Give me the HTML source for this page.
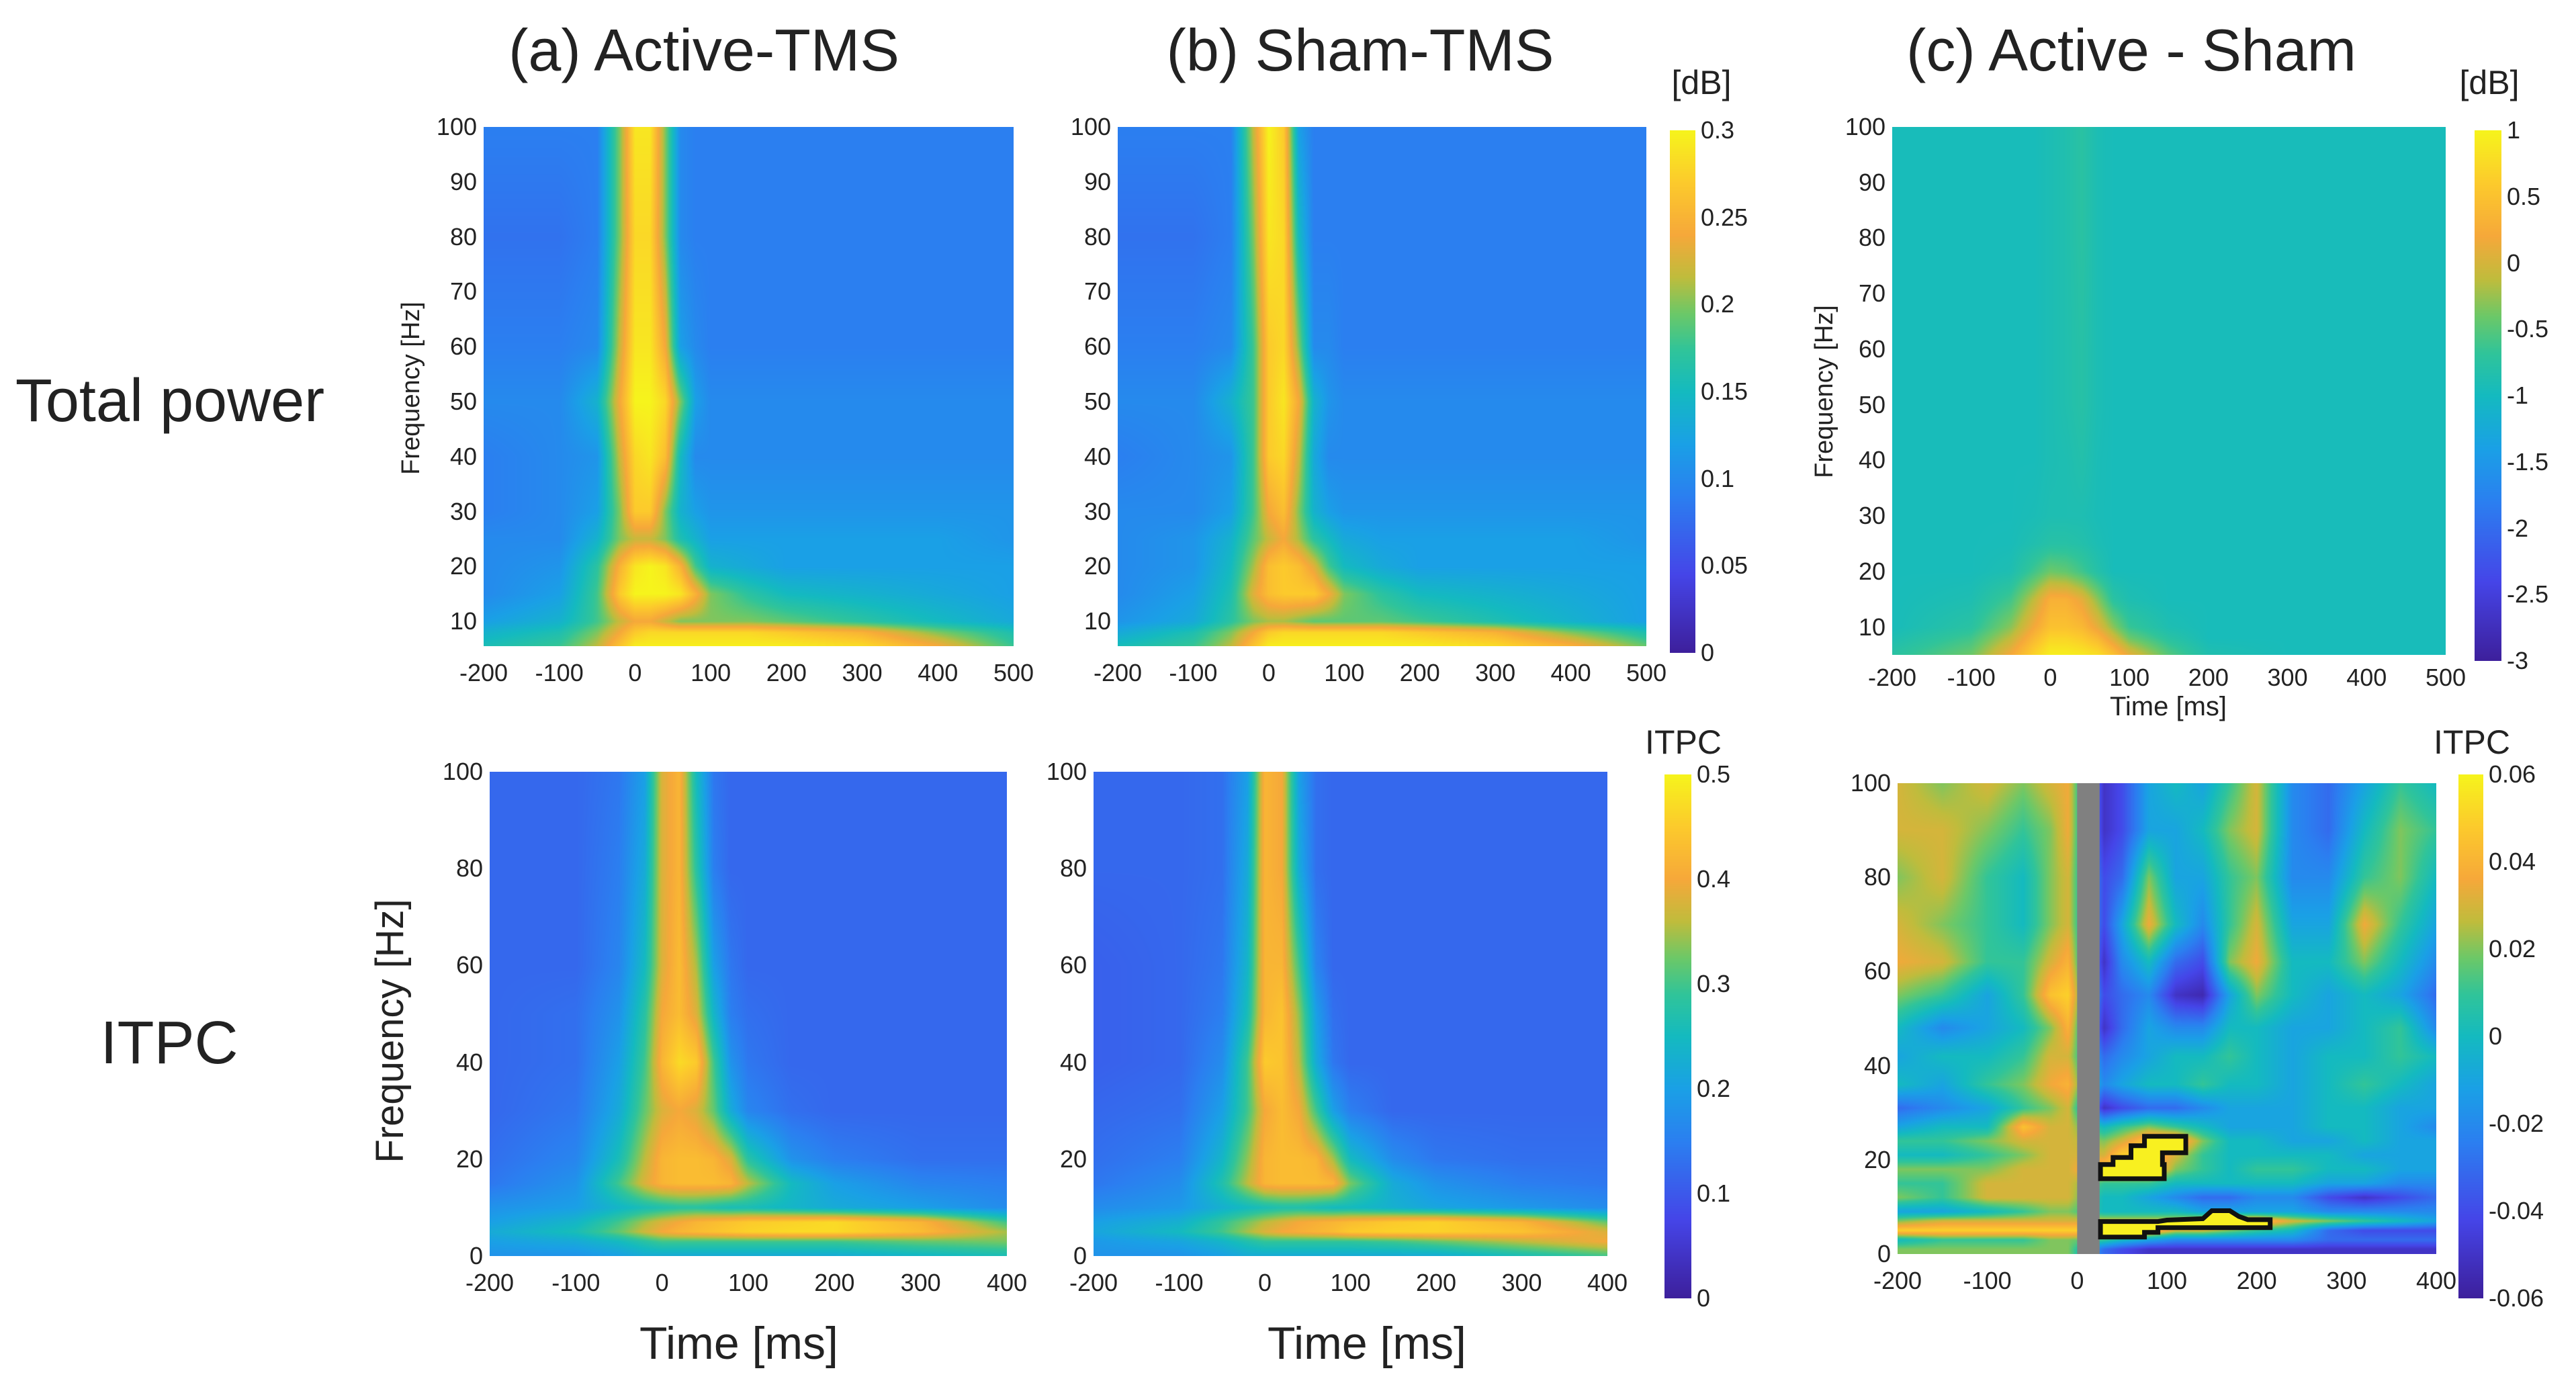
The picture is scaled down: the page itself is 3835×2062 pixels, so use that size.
<!DOCTYPE html>
<html><head><meta charset="utf-8"><style>
body{margin:0;background:#fff;}
#root{position:relative;width:3835px;height:2062px;overflow:hidden;background:#fff;font-family:"Liberation Sans Narrow","Liberation Sans",sans-serif;color:#222;}
.t{position:absolute;white-space:nowrap;line-height:1;}
canvas{position:absolute;}
svg{position:absolute;left:0;top:0;}
</style></head><body>
<div id="root"></div>
<script>
// ---------- DATA ----------
const stopsFrac=[0,0.15,0.3,0.4,0.5,0.58,0.65,0.72,0.8,0.9,1];
const stopsCol=["#3d1f9b","#4545e8","#2b7ff0","#1aa0e6","#14bac0","#30c49a","#6cc868","#c0bc3c","#f6a83a","#fcca2c","#f6f41c"];

const powTimes=[-200,-100,-50,-20,0,20,40,60,80,100,150,200,300,400,500];
const powFreqs=[100,80,60,50,40,30,25,20,15,10,8,5];
const powA=[
[.09,.09,.09,.2,.29,.29,.2,.1,.09,.09,.09,.09,.09,.09,.09],
[.08,.08,.09,.2,.28,.28,.2,.1,.09,.09,.09,.09,.09,.09,.09],
[.09,.09,.1,.22,.29,.29,.24,.12,.1,.09,.09,.09,.09,.09,.09],
[.1,.1,.14,.24,.3,.3,.28,.2,.12,.1,.1,.1,.1,.1,.1],
[.09,.1,.11,.22,.28,.29,.26,.15,.1,.1,.1,.1,.1,.1,.1],
[.09,.1,.12,.2,.27,.27,.2,.14,.12,.11,.11,.11,.11,.11,.11],
[.1,.1,.14,.2,.22,.22,.2,.16,.14,.12,.12,.12,.12,.12,.11],
[.1,.11,.17,.25,.29,.3,.29,.25,.18,.14,.13,.12,.12,.12,.12],
[.1,.12,.18,.27,.3,.3,.3,.29,.25,.2,.17,.15,.14,.13,.12],
[.12,.14,.18,.22,.24,.24,.22,.2,.2,.2,.2,.19,.17,.15,.13],
[.14,.16,.2,.24,.27,.28,.28,.28,.28,.28,.28,.27,.25,.2,.16],
[.16,.18,.22,.27,.3,.3,.3,.3,.3,.3,.3,.3,.29,.25,.18]];
const powB=[
[.09,.09,.09,.22,.3,.27,.12,.09,.09,.09,.09,.09,.09,.09,.09],
[.08,.08,.09,.2,.29,.28,.15,.09,.09,.09,.09,.09,.09,.09,.09],
[.09,.09,.1,.18,.27,.28,.2,.1,.1,.09,.09,.09,.09,.09,.09],
[.1,.1,.14,.18,.27,.29,.24,.14,.11,.1,.1,.1,.1,.1,.1],
[.09,.1,.11,.18,.27,.28,.22,.13,.1,.1,.1,.1,.1,.1,.1],
[.1,.1,.12,.18,.24,.26,.2,.14,.12,.11,.11,.11,.11,.11,.11],
[.1,.11,.14,.19,.22,.24,.21,.17,.15,.13,.12,.12,.12,.12,.11],
[.1,.11,.15,.21,.26,.27,.26,.23,.18,.15,.13,.12,.12,.12,.12],
[.1,.12,.16,.23,.26,.27,.27,.27,.24,.2,.17,.15,.14,.13,.12],
[.11,.13,.17,.2,.21,.21,.2,.19,.19,.19,.19,.18,.16,.14,.12],
[.13,.16,.2,.24,.27,.28,.28,.28,.28,.28,.28,.27,.25,.2,.16],
[.16,.18,.22,.27,.3,.3,.3,.3,.3,.3,.3,.3,.29,.26,.2]];
const powC=[
[-.95,-.95,-.95,-.95,-.9,-.85,-.75,-.9,-.95,-.95,-.95,-.95,-.95,-.95,-.95],
[-.95,-.95,-.95,-.95,-.9,-.85,-.75,-.9,-.95,-.95,-.95,-.95,-.95,-.95,-.95],
[-.95,-.95,-.95,-.95,-.9,-.85,-.78,-.9,-.95,-.95,-.95,-.95,-.95,-.95,-.95],
[-.95,-.95,-.95,-.95,-.9,-.85,-.78,-.9,-.95,-.95,-.95,-.95,-.95,-.95,-.95],
[-.95,-.95,-.95,-.95,-.9,-.88,-.82,-.92,-.95,-.95,-.95,-.95,-.95,-.95,-.95],
[-.95,-.95,-.95,-.92,-.88,-.88,-.88,-.93,-.95,-.95,-.95,-.95,-.95,-.95,-.95],
[-.95,-.95,-.94,-.85,-.78,-.78,-.82,-.9,-.95,-.95,-.95,-.95,-.95,-.95,-.95],
[-.95,-.95,-.88,-.6,-.4,-.45,-.6,-.8,-.95,-.95,-.95,-.95,-.95,-.95,-.95],
[-.95,-.88,-.6,-.1,.3,.3,.1,-.3,-.75,-.88,-.95,-.95,-.95,-.95,-.95],
[-.95,-.75,-.3,.2,.5,.5,.4,.1,-.3,-.65,-.88,-.95,-.95,-.95,-.95],
[-.88,-.6,-.1,.4,.7,.7,.6,.4,0,-.4,-.75,-.95,-.95,-.95,-.95],
[-.75,-.4,.2,.7,.95,.95,.9,.8,.5,.1,-.5,-.85,-.95,-.95,-.95]];

const itTimes=[-200,-100,-50,-20,0,20,40,60,80,100,150,200,300,400];
const itFreqs=[100,80,60,50,40,30,20,15,10,7,5,3,0];
const itA=[
[.12,.12,.14,.2,.38,.42,.25,.14,.12,.12,.12,.12,.12,.12],
[.12,.12,.15,.22,.38,.42,.28,.15,.12,.12,.12,.12,.12,.12],
[.12,.12,.16,.25,.38,.43,.35,.2,.14,.12,.12,.12,.12,.12],
[.12,.13,.18,.28,.4,.43,.38,.24,.15,.13,.12,.12,.12,.12],
[.12,.13,.2,.3,.42,.47,.45,.3,.18,.14,.12,.12,.12,.12],
[.12,.14,.22,.32,.38,.4,.38,.32,.22,.16,.13,.12,.12,.12],
[.13,.16,.26,.36,.42,.43,.43,.42,.38,.28,.18,.15,.13,.13],
[.14,.18,.3,.38,.42,.43,.43,.43,.42,.36,.25,.2,.16,.15],
[.18,.2,.24,.26,.27,.28,.28,.27,.26,.26,.24,.22,.2,.17],
[.2,.24,.3,.35,.38,.4,.42,.43,.44,.45,.46,.47,.42,.3],
[.22,.26,.32,.37,.4,.42,.43,.44,.45,.46,.47,.47,.43,.35],
[.2,.22,.25,.28,.3,.3,.3,.3,.3,.3,.3,.3,.32,.33],
[.18,.18,.2,.22,.22,.22,.22,.22,.22,.22,.22,.22,.24,.26]];
const itB=[
[.12,.12,.13,.2,.42,.4,.2,.13,.12,.12,.12,.12,.12,.12],
[.12,.12,.13,.22,.42,.4,.22,.13,.12,.12,.12,.12,.12,.12],
[.11,.12,.14,.24,.42,.42,.3,.16,.12,.12,.12,.12,.12,.12],
[.11,.12,.15,.26,.42,.44,.34,.2,.13,.12,.12,.12,.12,.12],
[.11,.12,.17,.3,.45,.44,.36,.22,.14,.12,.12,.12,.12,.12],
[.12,.13,.2,.3,.4,.43,.4,.3,.2,.15,.12,.12,.12,.12],
[.13,.15,.24,.34,.42,.43,.43,.42,.35,.25,.17,.14,.13,.13],
[.14,.17,.27,.36,.42,.43,.43,.43,.42,.33,.22,.18,.15,.14],
[.17,.19,.23,.25,.26,.27,.27,.26,.25,.25,.23,.21,.19,.17],
[.2,.23,.29,.33,.36,.38,.4,.41,.42,.43,.45,.46,.42,.32],
[.21,.25,.3,.35,.38,.4,.41,.42,.43,.45,.46,.46,.44,.38],
[.19,.21,.24,.27,.29,.29,.29,.29,.29,.29,.3,.32,.36,.4],
[.18,.18,.2,.22,.22,.22,.22,.22,.22,.22,.22,.22,.26,.3]];

const dTimes=[-200,-150,-100,-60,-30,-10,30,50,80,110,140,170,200,240,280,320,360,400];
const dFreqs=[100,90,80,70,62,55,48,42,36,31,27,24,21,18,15,12,9,7,5,3,1];
const dVals=[
[3,2,3,2,3,3.5,-5,-4,-1,0,-1,1,3,-2,-3,-1,1,0],
[3,3,2,1,2,3.5,-5,-4,-1,-1,0,2,3,-2,-3,0,2,1],
[2,3,1,0,2,3,-4,-3,2,-1,-1,1,2,-2,-2,1,2,0],
[3,2,1,0,2,3,-4,-1,3.5,0,-2,1,3,-1,-1,3.5,1,-1],
[3.5,3,1,1,3,4,-5,-2,0,-3,-4,2,3.5,0,0,2,0,-2],
[2,1,-1,1,4.5,5,-4,-3,-2,-5,-5.5,-1,2,0,-1,0,-1,-3],
[0,-2,-1,0,2,4,-5,-3,-1,-2,-2,0,0,-1,-1,0,1,-2],
[-1,0,0,1,3,3,-3,-2,-1,0,0,1,0,-1,0,0,1,0],
[0,-1,1,2,3.5,4,-2,-1,0,0,1,0,0,-1,0,1,0,-1],
[-3,-2,-1,1,2,3,-5,-4,-3,-3,-2,-1,-1,-1,0,0,-1,-1],
[-1,0,0,4.5,3,3,0,1,2,1,0,-1,-1,-1,0,0,-1,-2],
[1,1,2,3,3,3,2,3,5,5,2,0,0,-1,-1,0,-1,-1],
[0,0,1,2,3,3,3,5,5,3,1,0,0,0,0,-1,-1,-1],
[2,2,2,3,3,3,5,5,5,2,1,0,1,1,0,0,-1,-1],
[1,1,3,3,3,3,1,1,1,0,0,0,0,0,-1,-1,-2,-2],
[2,1,3,3,3,3,0,0,-1,-2,-3,-3,-2,-2,-4,-5,-4,-3],
[-1,-1,0,1,2,2,0,0,0,0,-1,-1,-1,-1,-2,-2,-2,-2],
[2,3,3,3,3,3,3,3,3,3,4,5,5,3,2,1,0,-1],
[5,5,5,5,5,5,5,5,5,3,3,2,1,0,-3,-4,-4,-4],
[0,1,1,1,2,2,1,0,-1,-2,-2,-2,-2,-2,-3,-3,-3,-3],
[2,2,2,2,2,2,-3,-4,-5,-5,-5,-5,-5,-5,-5,-5,-5,-5]];
const dScale=0.01;
const maskedWindow=[0,25];
const clusterBeta=[[26,16],[97,16],[97,19],[95,19],[95,21.5],[121,21.5],[121,25],[75,25],[75,23],[60,23],[60,20.5],[40,20.5],[40,19],[26,19]];
const clusterTheta=[[26,3.6],[75,3.6],[75,4.6],[90,4.6],[90,5.6],[215,5.6],[215,7.3],[190,7.3],[180,8],[170,9.2],[150,9.2],[140,7.5],[100,7.2],[90,6.9],[26,6.9]];

const topTimeTicks=[-200,-100,0,100,200,300,400,500];
const topFreqTicks=[10,20,30,40,50,60,70,80,90,100];
const botTimeTicks=[-200,-100,0,100,200,300,400];
const botFreqTicks=[0,20,40,60,80,100];
const cbPowTicks=[0,0.05,0.1,0.15,0.2,0.25,0.3];
const cbDiffTicks=[-3,-2.5,-2,-1.5,-1,-0.5,0,0.5,1];
const cbItTicks=[0,0.1,0.2,0.3,0.4,0.5];
const cbItDiffTicks=[-0.06,-0.04,-0.02,0,0.02,0.04,0.06];

// ---------- HELPERS ----------
const root=document.getElementById('root');
function hex(c){return [parseInt(c.substr(1,2),16),parseInt(c.substr(3,2),16),parseInt(c.substr(5,2),16)];}
const stopsRGB=stopsCol.map(hex);
function cmap(fr){fr=Math.max(0,Math.min(1,fr));let i=0;while(i<stopsFrac.length-2&&fr>stopsFrac[i+1])i++;
 const u=(fr-stopsFrac[i])/(stopsFrac[i+1]-stopsFrac[i]);const a=stopsRGB[i],b=stopsRGB[i+1];
 return [a[0]+(b[0]-a[0])*u,a[1]+(b[1]-a[1])*u,a[2]+(b[2]-a[2])*u];}
function seg(arr,v){
 const asc=arr[arr.length-1]>arr[0];
 for(let i=0;i<arr.length-1;i++){const a=arr[i],b=arr[i+1];
  if(asc?(v>=a&&v<=b):(v<=a&&v>=b)){return [i,(v-a)/(b-a)];}}
 if(asc?v<arr[0]:v>arr[0])return [0,0];return [arr.length-2,1];}
function txt(s,x,y,size,align,cls){
 const d=document.createElement('div');d.className='t';d.textContent=s;
 d.style.left=x+'px';d.style.top=y+'px';d.style.fontSize=size+'px';
 const tx=align==='r'?'-100%':align==='l'?'0':'-50%';
 d.style.transform='translate('+tx+',-50%)'+(cls&&cls.rot?' rotate(-90deg)':'');
 if(cls&&cls.font)d.style.fontFamily=cls.font;
 root.appendChild(d);return d;}

function heat(p){
 const c=document.createElement('canvas');c.width=p.w;c.height=p.h;
 c.style.left=p.x+'px';c.style.top=p.y+'px';
 
 
 root.appendChild(c);
 const ctx=c.getContext('2d');const img=ctx.createImageData(p.w,p.h);
 for(let py=0;py<p.h;py++){
  const f=p.f1+(p.f0-p.f1)*(py+0.5)/p.h;const [j,v]=seg(p.freqs,f);
  for(let px=0;px<p.w;px++){
   const t=p.t0+(p.t1-p.t0)*(px+0.5)/p.w;const [i,u]=seg(p.times,t);
   const g=p.vals;
   const val=((g[j][i]*(1-u)+g[j][i+1]*u)*(1-v)+(g[j+1][i]*(1-u)+g[j+1][i+1]*u)*v)*(p.scale||1);
   const col=cmap((val-p.vmin)/(p.vmax-p.vmin));const k=(py*p.w+px)*4;
   img.data[k]=col[0];img.data[k+1]=col[1];img.data[k+2]=col[2];img.data[k+3]=255;}}
 ctx.putImageData(img,0,0);
 const xs=t=>p.x+(t-p.t0)/(p.t1-p.t0)*p.w;
 const ys=f=>p.y+(p.f1-f)/(p.f1-p.f0)*p.h;
 p.tTicks.forEach(t=>{const d=txt(String(t),xs(t),p.y+p.h+p.tdy,36);
  
  });
 p.fTicks.forEach(f=>{const d=txt(String(f),p.x-10,ys(f),36,'r');
  
  });
 return {xs,ys};}

function cbar(b){
 const c=document.createElement('canvas');c.width=b.w;c.height=b.h;
 c.style.left=b.x+'px';c.style.top=b.y+'px';
 
 
 root.appendChild(c);const ctx=c.getContext('2d');
 for(let py=0;py<b.h;py++){const col=cmap(1-py/b.h);ctx.fillStyle='rgb('+col.map(Math.round).join(',')+')';ctx.fillRect(0,py,b.w,1);}
 b.ticks.forEach(v=>{const y=b.y+(b.vmax-v)/(b.vmax-b.vmin)*b.h;
  const d=txt(String(v),b.x+b.w+8,y,36,'l');
  
  });}

// ---------- TITLES ----------
[["(a) Active-TMS",1048,"title-a"],["(b) Sham-TMS",2025,"title-b"],["(c) Active - Sham",3173,"title-c"]].forEach(a=>{
 const d=txt(a[0],a[1],75,88);
 
 });
let e;
e=txt("Total power",253,597,90);


e=txt("ITPC",252,1553,90);


e=txt("[dB]",2533,123,50);


e=txt("[dB]",3706,123,50);


e=txt("ITPC",2506,1105,50);


e=txt("ITPC",3680,1105,50);


e=txt("Frequency [Hz]",612,578,38,'c',{rot:1,font:'"Liberation Sans",sans-serif'});


e=txt("Frequency [Hz]",2716,583,38,'c',{rot:1,font:'"Liberation Sans",sans-serif'});


e=txt("Frequency [Hz]",581,1535,58,'c',{rot:1,font:'"Liberation Sans",sans-serif'});


e=txt("Time [ms]",3228,1052,40);


e=txt("Time [ms]",1100,2000,68);


e=txt("Time [ms]",2035,2000,68);



// ---------- PANELS ----------
heat({name:'power-heatmap-active',x:720,y:189,w:789,h:773,t0:-200,t1:500,f0:5.5,f1:100,times:powTimes,freqs:powFreqs,vals:powA,vmin:0,vmax:0.3,tTicks:topTimeTicks,fTicks:topFreqTicks,tdy:40});
heat({name:'power-heatmap-sham',x:1664,y:189,w:787,h:773,t0:-200,t1:500,f0:5.5,f1:100,times:powTimes,freqs:powFreqs,vals:powB,vmin:0,vmax:0.3,tTicks:topTimeTicks,fTicks:topFreqTicks,tdy:40});
heat({name:'power-heatmap-diff',x:2817,y:189,w:824,h:786,t0:-200,t1:500,f0:5,f1:100,times:powTimes,freqs:powFreqs,vals:powC,vmin:-3,vmax:1,tTicks:topTimeTicks,fTicks:topFreqTicks,tdy:34});
heat({name:'itpc-heatmap-active',x:729,y:1149,w:770,h:721,t0:-200,t1:400,f0:0,f1:100,times:itTimes,freqs:itFreqs,vals:itA,vmin:0,vmax:0.5,tTicks:botTimeTicks,fTicks:botFreqTicks,tdy:40});
heat({name:'itpc-heatmap-sham',x:1628,y:1149,w:765,h:721,t0:-200,t1:400,f0:0,f1:100,times:itTimes,freqs:itFreqs,vals:itB,vmin:0,vmax:0.5,tTicks:botTimeTicks,fTicks:botFreqTicks,tdy:40});
const dc=heat({name:'itpc-heatmap-diff',x:2825,y:1166,w:802,h:701,t0:-200,t1:400,f0:0,f1:100,times:dTimes,freqs:dFreqs,vals:dVals,scale:dScale,vmin:-0.06,vmax:0.06,tTicks:botTimeTicks,fTicks:botFreqTicks,tdy:40});

const NS='http://www.w3.org/2000/svg';
const svg=document.createElementNS(NS,'svg');svg.setAttribute('width','3835');svg.setAttribute('height','2062');


root.appendChild(svg);
const mask=document.createElementNS(NS,'rect');
mask.setAttribute('x',dc.xs(maskedWindow[0]));mask.setAttribute('width',dc.xs(maskedWindow[1])-dc.xs(maskedWindow[0]));
mask.setAttribute('y',1166);mask.setAttribute('height',701);mask.setAttribute('fill','#808080');


svg.appendChild(mask);
[[clusterBeta,'cluster-beta'],[clusterTheta,'cluster-theta']].forEach(c=>{
 const pg=document.createElementNS(NS,'polygon');
 pg.setAttribute('points',c[0].map(p=>dc.xs(p[0])+','+dc.ys(p[1])).join(' '));
 pg.setAttribute('fill','#f8f020');pg.setAttribute('stroke','#111');pg.setAttribute('stroke-width','7');pg.setAttribute('stroke-linejoin','miter');
 
 
 svg.appendChild(pg);});

cbar({name:'colorbar-power',x:2486,y:194,w:38,h:778,vmin:0,vmax:0.3,ticks:cbPowTicks});
cbar({name:'colorbar-power-diff',x:3684,y:194,w:40,h:790,vmin:-3,vmax:1,ticks:cbDiffTicks});
cbar({name:'colorbar-itpc',x:2478,y:1153,w:40,h:780,vmin:0,vmax:0.5,ticks:cbItTicks});
cbar({name:'colorbar-itpc-diff',x:3660,y:1153,w:37,h:780,vmin:-0.06,vmax:0.06,ticks:cbItDiffTicks});
</script>
</body></html>
